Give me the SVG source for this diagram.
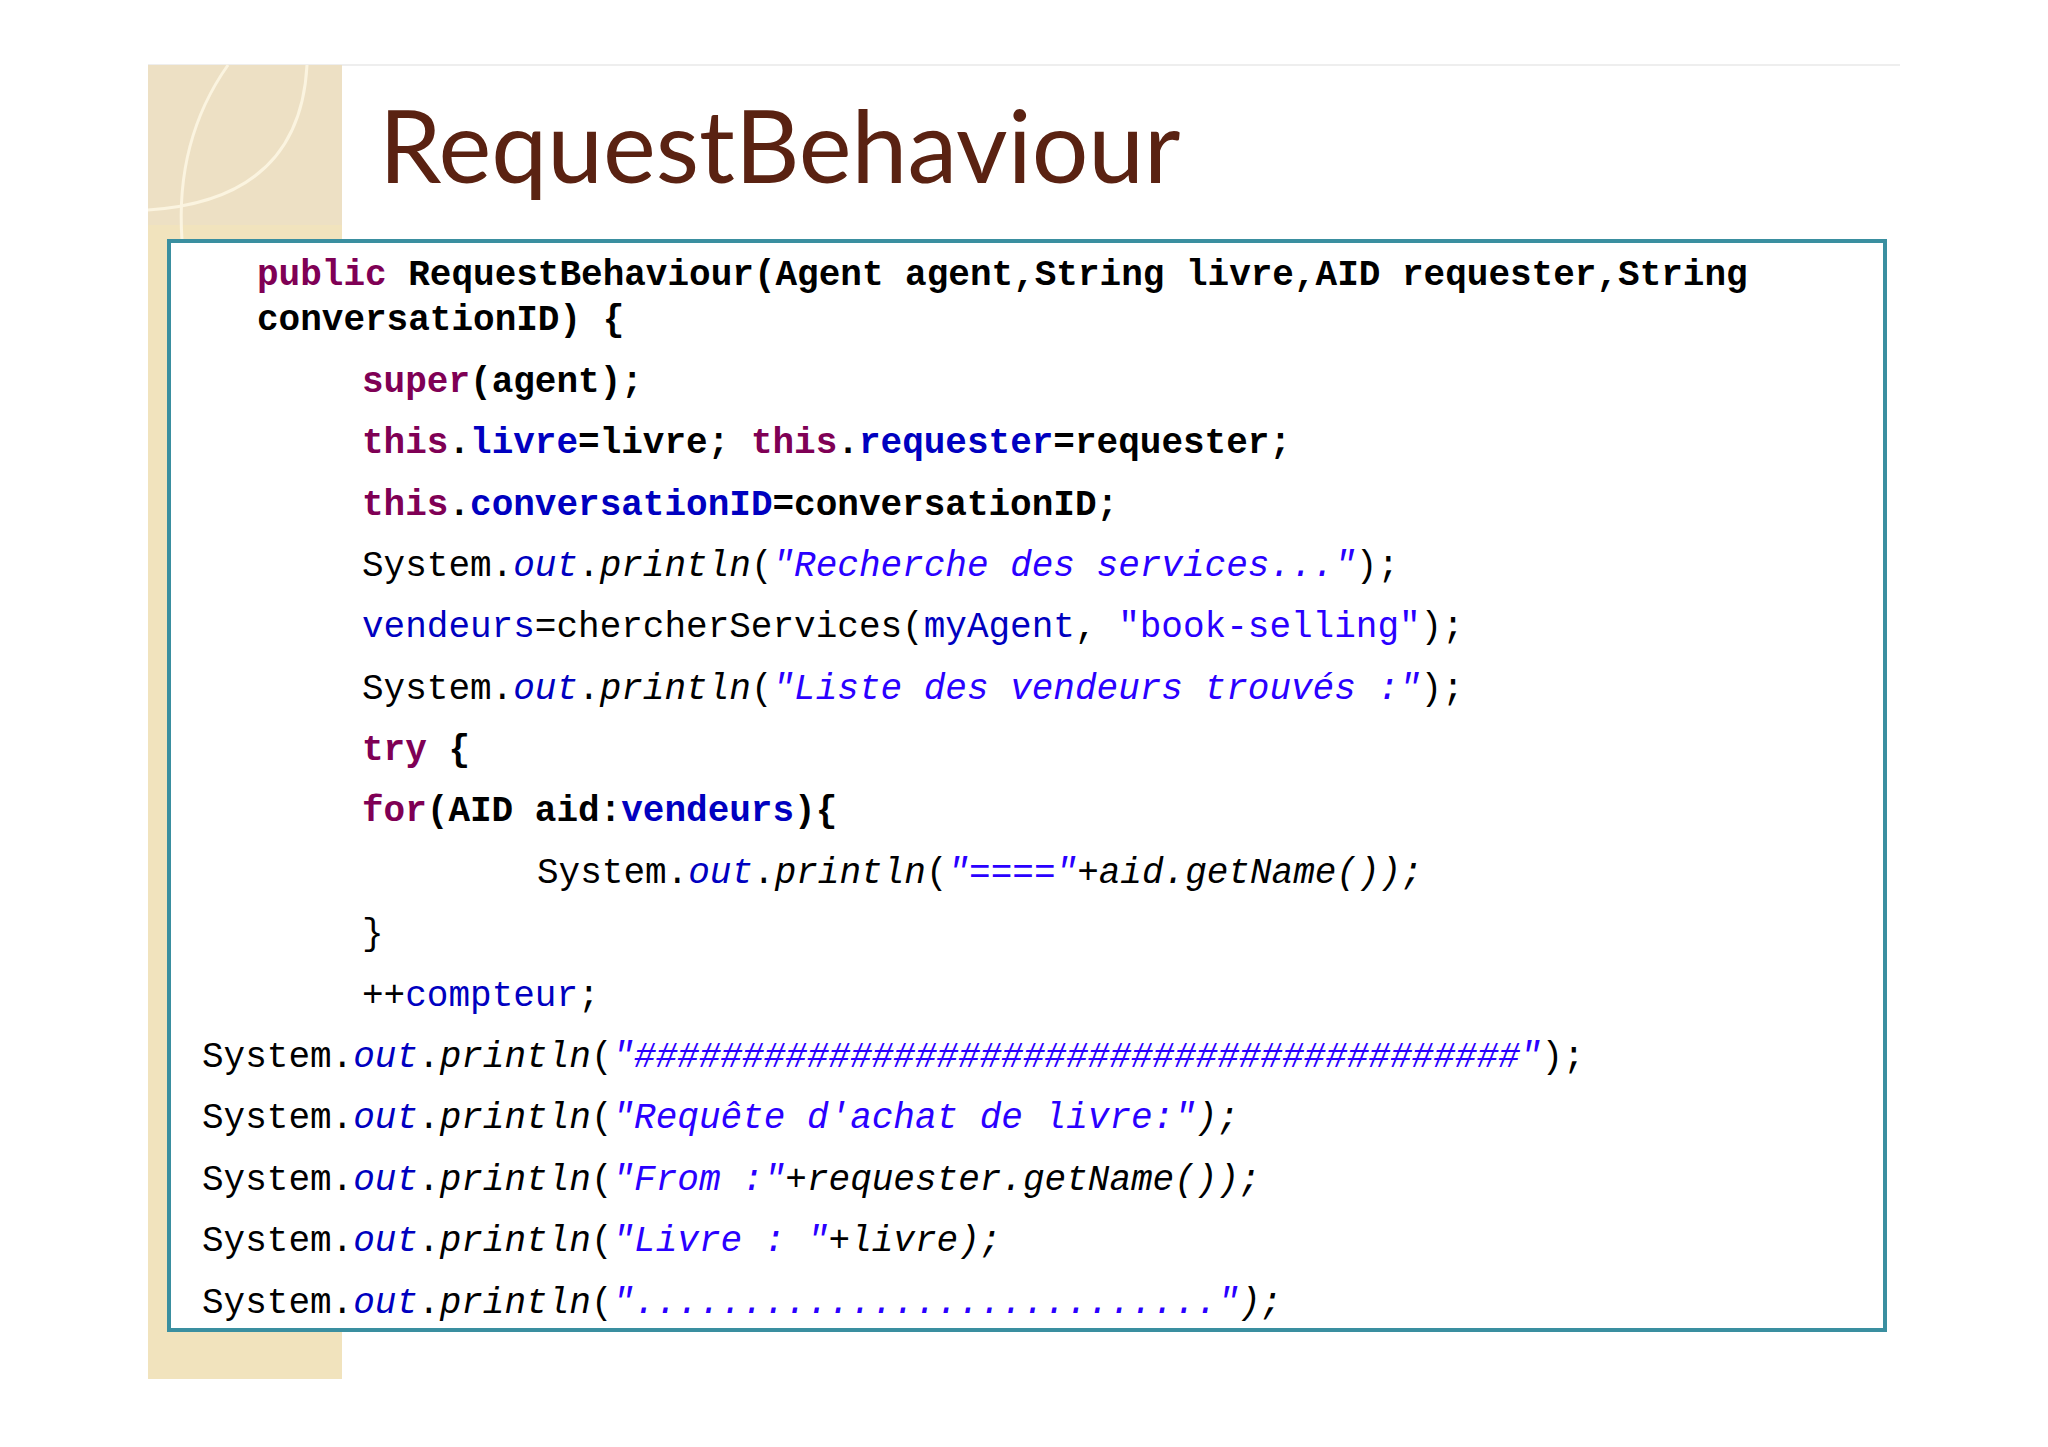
<svg xmlns="http://www.w3.org/2000/svg" width="2048" height="1447" viewBox="0 0 2048 1447">
<style>
.c{font-family:"Liberation Mono","DejaVu Sans Mono",monospace;font-size:36px;fill:#000;white-space:pre}
.b{font-weight:bold}
.k{fill:#7f0055;font-weight:bold}
.f{fill:#0000c0}
.s{fill:#2a00ff;font-style:italic}
.i{font-style:italic}
</style>
<rect width="2048" height="1447" fill="#fff"/>
<g id="background">
<line x1="148" y1="65" x2="1900" y2="65" stroke="#eeeeee" stroke-width="2"/>
<rect x="148" y="65" width="194" height="1314" fill="#f1e3bd"/>
<rect x="148" y="65" width="194" height="160" fill="#ede0c4"/>
<path d="M148 210 Q300 200 307 65" fill="none" stroke="#fbf4e0" stroke-width="3"/>
<path d="M228 65 Q175 140 182 240" fill="none" stroke="#fbf4e0" stroke-width="3"/>
</g>
<g id="title"><text x="379" y="183" font-family="Lato,'Open Sans',sans-serif" font-size="100" fill="#5a2212">RequestBehaviour</text></g>
<g id="codebox">
<rect x="169" y="241" width="1716" height="1089" fill="#fff" stroke="#3a8fa0" stroke-width="4"/>
<text class="c b" x="257" y="285"><tspan class="k">public</tspan> RequestBehaviour(Agent agent,String livre,AID requester,String</text>
<text class="c b" x="257" y="330">conversationID) {</text>
<text class="c b" x="362" y="392"><tspan class="k">super</tspan>(agent);</text>
<text class="c b" x="362" y="453"><tspan class="k">this</tspan>.<tspan class="f">livre</tspan>=livre; <tspan class="k">this</tspan>.<tspan class="f">requester</tspan>=requester;</text>
<text class="c b" x="362" y="515"><tspan class="k">this</tspan>.<tspan class="f">conversationID</tspan>=conversationID;</text>
<text class="c" x="362" y="576">System.<tspan class="f i">out</tspan>.<tspan class="i">println</tspan>(<tspan class="s">"Recherche des services..."</tspan>);</text>
<text class="c" x="362" y="637"><tspan class="f">vendeurs</tspan>=chercherServices(<tspan class="f">myAgent</tspan>, <tspan fill="#2a00ff">"book-selling"</tspan>);</text>
<text class="c" x="362" y="699">System.<tspan class="f i">out</tspan>.<tspan class="i">println</tspan>(<tspan class="s">"Liste des vendeurs trouvés :"</tspan>);</text>
<text class="c b" x="362" y="760"><tspan class="k">try</tspan> {</text>
<text class="c b" x="362" y="821"><tspan class="k">for</tspan>(AID aid:<tspan class="f">vendeurs</tspan>){</text>
<text class="c" x="537" y="883">System.<tspan class="f i">out</tspan>.<tspan class="i">println</tspan>(<tspan class="s">"===="</tspan><tspan class="i">+aid.getName());</tspan></text>
<text class="c" x="362" y="944">}</text>
<text class="c" x="362" y="1006">++<tspan class="f">compteur</tspan>;</text>
<text class="c" x="202" y="1067">System.<tspan class="f i">out</tspan>.<tspan class="i">println</tspan>(<tspan class="s">"#########################################"</tspan>);</text>
<text class="c" x="202" y="1128">System.<tspan class="f i">out</tspan>.<tspan class="i">println</tspan>(<tspan class="s">"Requête d'achat de livre:"</tspan><tspan class="i">);</tspan></text>
<text class="c" x="202" y="1190">System.<tspan class="f i">out</tspan>.<tspan class="i">println</tspan>(<tspan class="s">"From :"</tspan><tspan class="i">+requester.getName());</tspan></text>
<text class="c" x="202" y="1251">System.<tspan class="f i">out</tspan>.<tspan class="i">println</tspan>(<tspan class="s">"Livre : "</tspan><tspan class="i">+livre);</tspan></text>
<text class="c" x="202" y="1313">System.<tspan class="f i">out</tspan>.<tspan class="i">println</tspan>(<tspan class="s">"..........................."</tspan><tspan class="i">);</tspan></text>
</g>
</svg>
